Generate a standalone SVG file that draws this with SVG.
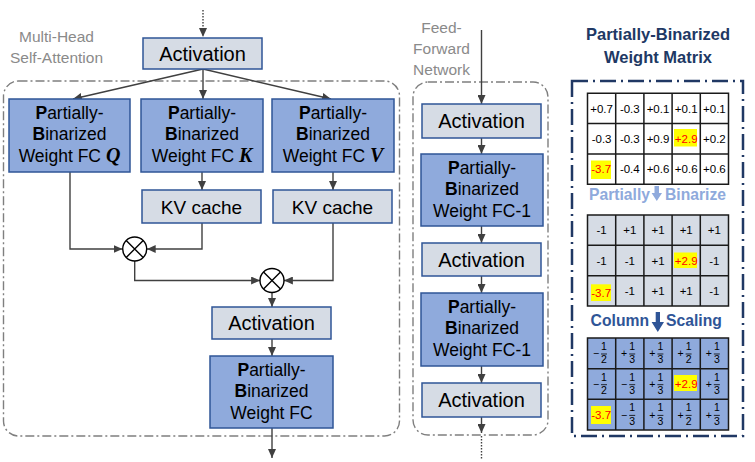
<svg xmlns="http://www.w3.org/2000/svg" width="755" height="462" viewBox="0 0 755 462">
  <defs>
    <marker id="arrow" viewBox="0 0 10 9" refX="10" refY="4.5" markerWidth="9" markerHeight="8" markerUnits="userSpaceOnUse" orient="auto">
      <path d="M0,0 L10,4.5 L0,9 z" fill="#404040"/>
    </marker>
    <style>
      text { font-family: "Liberation Sans", Arial, sans-serif; }
      .act { fill: #D6DCE5; stroke: #2F5597; stroke-width: 1.5; }
      .pb { fill: #8FAADC; stroke: #2F5597; stroke-width: 1.5; }
      .t20 { font-size: 20px; fill: #000; text-anchor: middle; }
      .t17 { font-size: 17.5px; fill: #000; text-anchor: middle; }
      .gray { font-size: 15.5px; fill: #8A8A8A; text-anchor: middle; }
      .wire { fill: none; stroke: #404040; stroke-width: 1.4; }
      .block { fill: none; stroke: #7F7F7F; stroke-width: 1.4; stroke-dasharray: 9 3 2 3; }
      .math { font-family: "Liberation Serif", "Times New Roman", serif; font-weight: bold; font-style: italic; font-size: 20px; }
      .grid { stroke: #1A1A1A; stroke-width: 1.5; fill: none; }
      .cell { font-size: 11.5px; text-anchor: middle; fill: #000; }
      .hot { fill: #FF0000; }
      .hl { fill: #FFFF00; }
      .frac text { font-size: 10.5px; text-anchor: middle; fill: #000; }
      .frac line { stroke: #000; stroke-width: 0.8; }
    </style>
  </defs>

  <!-- block outlines -->
  <rect id="mhsa-block" class="block" x="3.5" y="81" width="396" height="355" rx="15"/>
  <rect id="ffn-block" class="block" x="413" y="82" width="135" height="353" rx="15"/>
  <rect id="matrix-panel" x="572" y="81" width="171" height="355" fill="none" stroke="#203864" stroke-width="2.5" stroke-dasharray="16 5 2 5"/>

  <!-- labels -->
  <text class="gray" x="56.5" y="41.5">Multi-Head</text>
  <text class="gray" x="56.5" y="63">Self-Attention</text>
  <text class="gray" x="441.5" y="33">Feed-</text>
  <text class="gray" x="441.5" y="54">Forward</text>
  <text class="gray" x="441.5" y="75">Network</text>

  <!-- connectors -->
  <g id="connectors">
    <path class="wire" d="M203,10 L203,37" stroke-dasharray="1.5 1.5" marker-end="url(#arrow)"/>
    <path class="wire" d="M203,69 L73,99" marker-end="url(#arrow)"/>
    <path class="wire" d="M203,69 L203,99" marker-end="url(#arrow)"/>
    <path class="wire" d="M203,69 L331,99" marker-end="url(#arrow)"/>
    <path class="wire" d="M202,172 L202,190" marker-end="url(#arrow)"/>
    <path class="wire" d="M333,172 L333,190" marker-end="url(#arrow)"/>
    <path class="wire" d="M70,172 L70,249 L122.5,249" marker-end="url(#arrow)"/>
    <path class="wire" d="M202,223 L202,249 L146.8,249" marker-end="url(#arrow)"/>
    <path class="wire" d="M134.7,261 L134.7,280.5 L260,280.5" marker-end="url(#arrow)"/>
    <path class="wire" d="M333,223 L333,280.5 L284,280.5" marker-end="url(#arrow)"/>
    <path class="wire" d="M272,292.5 L272,307" marker-end="url(#arrow)"/>
    <path class="wire" d="M272,339 L272,356" marker-end="url(#arrow)"/>
    <path class="wire" d="M272,428 L272,458" marker-end="url(#arrow)"/>
    <path class="wire" d="M481.5,30 L481.5,104" marker-end="url(#arrow)"/>
    <path class="wire" d="M481.5,138 L481.5,154" marker-end="url(#arrow)"/>
    <path class="wire" d="M481.5,226 L481.5,243" marker-end="url(#arrow)"/>
    <path class="wire" d="M481.5,276 L481.5,293" marker-end="url(#arrow)"/>
    <path class="wire" d="M481.5,366 L481.5,383" marker-end="url(#arrow)"/>
    <path class="wire" d="M481.5,417 L481.5,433" marker-end="url(#arrow)"/>
    <path class="wire" d="M481.5,436 L481.5,460" stroke-dasharray="1.5 1.5"/>
  </g>

  <!-- attention nodes -->
  <g id="act-in">
    <rect class="act" x="143" y="38" width="119" height="31"/>
    <text class="t20" x="202.5" y="60.5">Activation</text>
  </g>
  <g id="fc-q">
    <rect class="pb" x="9" y="99" width="121" height="73"/>
    <text class="t17" x="69.5" y="118.5"><tspan font-weight="bold">P</tspan>artially-</text>
    <text class="t17" x="69.5" y="140"><tspan font-weight="bold">B</tspan>inarized</text>
    <text class="t17" x="69.5" y="161.5">Weight FC <tspan class="math">Q</tspan></text>
  </g>
  <g id="fc-k">
    <rect class="pb" x="141" y="99" width="122" height="73"/>
    <text class="t17" x="202" y="118.5"><tspan font-weight="bold">P</tspan>artially-</text>
    <text class="t17" x="202" y="140"><tspan font-weight="bold">B</tspan>inarized</text>
    <text class="t17" x="202" y="161.5">Weight FC <tspan class="math">K</tspan></text>
  </g>
  <g id="fc-v">
    <rect class="pb" x="272" y="99" width="122" height="73"/>
    <text class="t17" x="333" y="118.5"><tspan font-weight="bold">P</tspan>artially-</text>
    <text class="t17" x="333" y="140"><tspan font-weight="bold">B</tspan>inarized</text>
    <text class="t17" x="333" y="161.5">Weight FC <tspan class="math">V</tspan></text>
  </g>
  <g id="kv-cache-k">
    <rect class="act" x="142" y="190" width="119" height="33"/>
    <text class="t20" x="201.5" y="213.5" style="font-size:19px">KV cache</text>
  </g>
  <g id="kv-cache-v">
    <rect class="act" x="273" y="190" width="119" height="33"/>
    <text class="t20" x="332.5" y="213.5" style="font-size:19px">KV cache</text>
  </g>
  <g id="mul-qk">
    <circle cx="134.7" cy="249" r="12" fill="#fff" stroke="#000" stroke-width="1.4"/>
    <path d="M126.2,240.5 L143.2,257.5 M143.2,240.5 L126.2,257.5" stroke="#000" stroke-width="1.4"/>
  </g>
  <g id="mul-v">
    <circle cx="272" cy="280.5" r="12" fill="#fff" stroke="#000" stroke-width="1.4"/>
    <path d="M263.5,272 L280.5,289 M280.5,272 L263.5,289" stroke="#000" stroke-width="1.4"/>
  </g>
  <g id="act-attn">
    <rect class="act" x="212" y="307" width="119" height="32"/>
    <text class="t20" x="271.5" y="330">Activation</text>
  </g>
  <g id="fc-out">
    <rect class="pb" x="210" y="356" width="123" height="72"/>
    <text class="t17" x="271.5" y="375.5"><tspan font-weight="bold">P</tspan>artially-</text>
    <text class="t17" x="271.5" y="397"><tspan font-weight="bold">B</tspan>inarized</text>
    <text class="t17" x="271.5" y="418.5">Weight FC</text>
  </g>

  <!-- feed-forward nodes -->
  <g id="ffn-act-1">
    <rect class="act" x="422" y="104" width="119" height="34"/>
    <text class="t20" x="481.5" y="128">Activation</text>
  </g>
  <g id="ffn-fc-1">
    <rect class="pb" x="421" y="154" width="122" height="72"/>
    <text class="t17" x="482" y="173.5"><tspan font-weight="bold">P</tspan>artially-</text>
    <text class="t17" x="482" y="195"><tspan font-weight="bold">B</tspan>inarized</text>
    <text class="t17" x="482" y="216.5">Weight FC-1</text>
  </g>
  <g id="ffn-act-2">
    <rect class="act" x="422" y="243" width="119" height="33"/>
    <text class="t20" x="481.5" y="266.5">Activation</text>
  </g>
  <g id="ffn-fc-2">
    <rect class="pb" x="421" y="293" width="122" height="73"/>
    <text class="t17" x="482" y="312.5"><tspan font-weight="bold">P</tspan>artially-</text>
    <text class="t17" x="482" y="334"><tspan font-weight="bold">B</tspan>inarized</text>
    <text class="t17" x="482" y="355.5">Weight FC-1</text>
  </g>
  <g id="ffn-act-3">
    <rect class="act" x="422" y="383" width="119" height="34"/>
    <text class="t20" x="481.5" y="407">Activation</text>
  </g>

  <!-- weight matrix panel -->
  <text x="658" y="40" font-size="16.5" font-weight="bold" fill="#203864" text-anchor="middle">Partially-Binarized</text>
  <text x="658" y="63" font-size="16.5" font-weight="bold" fill="#203864" text-anchor="middle">Weight Matrix</text>

  <!-- original matrix -->
  <g id="matrix-fp">
    <rect x="587.5" y="93.3" width="141" height="90.9" fill="#fff"/>
    <rect class="hl" x="674" y="129" width="23" height="17.5"/>
    <rect class="hl" x="591" y="160.5" width="20" height="18.5"/>
    <path class="grid" d="M587.5,93.3 H728.5 V184.2 H587.5 Z M615.7,93.3 V184.2 M643.9,93.3 V184.2 M672.1,93.3 V184.2 M700.3,93.3 V184.2 M587.5,123.6 H728.5 M587.5,153.9 H728.5"/>
    <g class="cell">
      <text x="601.6" y="112.5">+0.7</text><text x="629.8" y="112.5">-0.3</text><text x="658" y="112.5">+0.1</text><text x="686.2" y="112.5">+0.1</text><text x="714.4" y="112.5">+0.1</text>
      <text x="601.6" y="142.8">-0.3</text><text x="629.8" y="142.8">-0.3</text><text x="658" y="142.8">+0.9</text><text class="hot" x="686.2" y="142.8">+2.9</text><text x="714.4" y="142.8">+0.2</text>
      <text class="hot" x="601.2" y="173">-3.7</text><text x="629.8" y="173">-0.4</text><text x="658" y="173">+0.6</text><text x="686.2" y="173">+0.6</text><text x="714.4" y="173">+0.6</text>
    </g>
  </g>

  <!-- step: partially binarize -->
  <text x="650" y="200" font-size="15.7" font-weight="bold" fill="#8FAADC" text-anchor="end">Partially</text>
  <path d="M654.5,186 H659 V193 H662 L656.8,201 L651.6,193 H654.5 Z" fill="#8FAADC"/>
  <text x="665" y="200" font-size="15.7" font-weight="bold" fill="#8FAADC">Binarize</text>

  <!-- binarized matrix -->
  <g id="matrix-bin">
    <rect x="587.5" y="215" width="141" height="91" fill="#D6DCE5"/>
    <rect class="hl" x="674" y="252.5" width="23" height="15.5"/>
    <rect class="hl" x="591" y="284.3" width="20" height="16.7"/>
    <path class="grid" d="M587.5,215 H728.5 V306 H587.5 Z M615.7,215 V306 M643.9,215 V306 M672.1,215 V306 M700.3,215 V306 M587.5,245.3 H728.5 M587.5,275.7 H728.5"/>
    <g class="cell">
      <text x="601.6" y="234.2">-1</text><text x="629.8" y="234.2">+1</text><text x="658" y="234.2">+1</text><text x="686.2" y="234.2">+1</text><text x="714.4" y="234.2">+1</text>
      <text x="601.6" y="264.5">-1</text><text x="629.8" y="264.5">-1</text><text x="658" y="264.5">+1</text><text class="hot" x="686.2" y="264.5">+2.9</text><text x="714.4" y="264.5">-1</text>
      <text class="hot" x="601.2" y="296.8">-3.7</text><text x="629.8" y="294.8">-1</text><text x="658" y="294.8">+1</text><text x="686.2" y="294.8">+1</text><text x="714.4" y="294.8">-1</text>
    </g>
  </g>

  <!-- step: column scaling -->
  <text x="649" y="326" font-size="15.7" font-weight="bold" fill="#2F5597" text-anchor="end">Column</text>
  <path d="M655.7,312 H660 V322 H664 L657.8,332 L651.6,322 H655.7 Z" fill="#2F5597"/>
  <text x="666" y="326" font-size="15.7" font-weight="bold" fill="#2F5597">Scaling</text>

  <!-- scaled matrix -->
  <g id="matrix-scaled">
    <rect x="587.5" y="338" width="141" height="92" fill="#8FAADC"/>
    <rect class="hl" x="674" y="375" width="23" height="16"/>
    <rect class="hl" x="591" y="406" width="20" height="18"/>
    <path class="grid" d="M587.5,338 H728.5 V430 H587.5 Z M615.7,338 V430 M643.9,338 V430 M672.1,338 V430 M700.3,338 V430 M587.5,368.7 H728.5 M587.5,399.3 H728.5"/>
    <!-- row 1 -->
    <g class="frac" transform="translate(587.5,353.3)"><text x="8.5" y="3.8">−</text><text x="16.5" y="-3.3">1</text><line x1="13.5" x2="19.5" y1="0.7" y2="0.7"/><text x="16.5" y="10">2</text></g>
    <g class="frac" transform="translate(615.7,353.3)"><text x="8.5" y="3.8">+</text><text x="16.5" y="-3.3">1</text><line x1="13.5" x2="19.5" y1="0.7" y2="0.7"/><text x="16.5" y="10">3</text></g>
    <g class="frac" transform="translate(643.9,353.3)"><text x="8.5" y="3.8">+</text><text x="16.5" y="-3.3">1</text><line x1="13.5" x2="19.5" y1="0.7" y2="0.7"/><text x="16.5" y="10">3</text></g>
    <g class="frac" transform="translate(672.1,353.3)"><text x="8.5" y="3.8">+</text><text x="16.5" y="-3.3">1</text><line x1="13.5" x2="19.5" y1="0.7" y2="0.7"/><text x="16.5" y="10">2</text></g>
    <g class="frac" transform="translate(700.3,353.3)"><text x="8.5" y="3.8">+</text><text x="16.5" y="-3.3">1</text><line x1="13.5" x2="19.5" y1="0.7" y2="0.7"/><text x="16.5" y="10">3</text></g>
    <!-- row 2 -->
    <g class="frac" transform="translate(587.5,384)"><text x="8.5" y="3.8">−</text><text x="16.5" y="-3.3">1</text><line x1="13.5" x2="19.5" y1="0.7" y2="0.7"/><text x="16.5" y="10">2</text></g>
    <g class="frac" transform="translate(615.7,384)"><text x="8.5" y="3.8">−</text><text x="16.5" y="-3.3">1</text><line x1="13.5" x2="19.5" y1="0.7" y2="0.7"/><text x="16.5" y="10">3</text></g>
    <g class="frac" transform="translate(643.9,384)"><text x="8.5" y="3.8">+</text><text x="16.5" y="-3.3">1</text><line x1="13.5" x2="19.5" y1="0.7" y2="0.7"/><text x="16.5" y="10">3</text></g>
    <text class="cell hot" x="686.2" y="388">+2.9</text>
    <g class="frac" transform="translate(700.3,384)"><text x="8.5" y="3.8">+</text><text x="16.5" y="-3.3">1</text><line x1="13.5" x2="19.5" y1="0.7" y2="0.7"/><text x="16.5" y="10">3</text></g>
    <!-- row 3 -->
    <text class="cell hot" x="601.2" y="419">-3.7</text>
    <g class="frac" transform="translate(615.7,414.7)"><text x="8.5" y="3.8">−</text><text x="16.5" y="-3.3">1</text><line x1="13.5" x2="19.5" y1="0.7" y2="0.7"/><text x="16.5" y="10">3</text></g>
    <g class="frac" transform="translate(643.9,414.7)"><text x="8.5" y="3.8">+</text><text x="16.5" y="-3.3">1</text><line x1="13.5" x2="19.5" y1="0.7" y2="0.7"/><text x="16.5" y="10">3</text></g>
    <g class="frac" transform="translate(672.1,414.7)"><text x="8.5" y="3.8">+</text><text x="16.5" y="-3.3">1</text><line x1="13.5" x2="19.5" y1="0.7" y2="0.7"/><text x="16.5" y="10">2</text></g>
    <g class="frac" transform="translate(700.3,414.7)"><text x="8.5" y="3.8">+</text><text x="16.5" y="-3.3">1</text><line x1="13.5" x2="19.5" y1="0.7" y2="0.7"/><text x="16.5" y="10">3</text></g>
  </g>
</svg>
